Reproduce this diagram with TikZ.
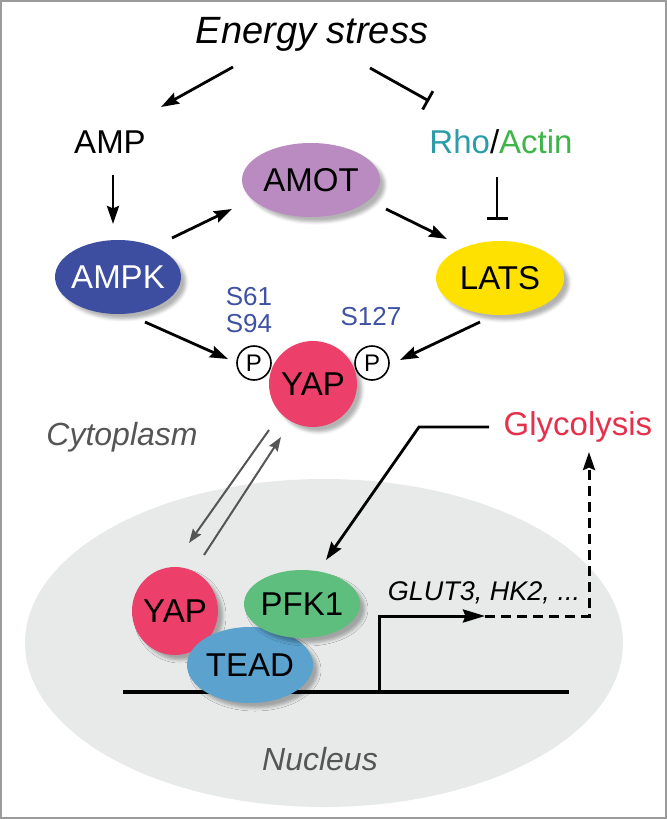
\documentclass[tikz,border=0pt]{standalone}
\usepackage{fontspec}
\setmainfont{Liberation Sans}
\usetikzlibrary{arrows.meta, shapes.geometric, shadows.blur, calc}
\definecolor{yapRed}{HTML}{EC3F6A}
\definecolor{amotPurple}{HTML}{B98BC1}
\definecolor{ampkBlue}{HTML}{3D4EA0}
\definecolor{latsYellow}{HTML}{FFE100}
\definecolor{pfkGreen}{HTML}{5DBE7D}
\definecolor{teadBlue}{HTML}{5BA2CF}
\definecolor{nucGrey}{HTML}{E8E9E9}
\definecolor{rhoTeal}{HTML}{2B9CA8}
\definecolor{actinGreen}{HTML}{3DB549}
\definecolor{glyRed}{HTML}{E5304C}
\definecolor{siteBlue}{HTML}{3F51A3}
\definecolor{txtGrey}{HTML}{555555}
\definecolor{frameGrey}{HTML}{9B9B9B}
\tikzset{
  act/.style     = {-{Stealth[length=9pt, width=6pt, inset=1.2pt]}, line width=1.4pt, black},
  inh/.style     = {-{Bar[width=10.5pt]}, line width=1.4pt, black},
  shuttle/.style = {-{Stealth[length=7pt, width=5pt, inset=1pt]}, line width=1pt, txtGrey},
  express/.style = {act, line width=1.5pt, dash pattern=on 5pt off 3pt},
  prot/.style    = {ellipse, inner sep=0pt, inner xsep=-4pt, font=\fontsize{16.5}{19}\selectfont,
                    blur shadow={shadow xshift=2.5pt, shadow yshift=-2.5pt,
                                 shadow blur radius=1.5pt, shadow opacity=30}},
  phos/.style    = {circle, draw=black, line width=0.8pt, fill=white, minimum size=17pt,
                    inner sep=0pt, font=\fontsize{12}{14}\selectfont},
  lbl/.style     = {anchor=base, inner sep=0pt, font=\fontsize{16.5}{19}\selectfont},
  site/.style    = {anchor=base, inner sep=0pt, font=\fontsize{13}{15}\selectfont, siteBlue},
  comp/.style    = {anchor=base, inner sep=0pt, font=\fontsize{16}{19}\selectfont\itshape, txtGrey},
}
\begin{document}
\begin{tikzpicture}[x=0.5pt, y=-0.5pt]
  \useasboundingbox (0,0) rectangle (667,819);
  \draw[frameGrey, line width=1pt] (1,1) rectangle (666,818);
  % nucleus and DNA
  \fill[nucGrey] (324,643) ellipse [x radius=149.5pt, y radius=82pt];
  \coordinate (dnaL) at (123,692);
  \coordinate (dnaR) at (569,692);
  \coordinate (tss)  at (379,692);
  \draw[line width=1.6pt] (dnaL) -- (dnaR);

  \node[anchor=base, inner sep=0pt, font=\fontsize{19}{22}\selectfont\itshape] (es) at (312,43) {Energy stress};
  \node[lbl] (amp) at (110,153) {AMP};
  \node[lbl] (rho) at (501,153) {\textcolor{rhoTeal}{Rho}/\textcolor{actinGreen}{Actin}};

  \node[prot, fill=amotPurple, minimum width=69pt, minimum height=37pt] (amot) at (311,180) {AMOT};
  \node[prot, fill=ampkBlue, text=white, minimum width=63pt, minimum height=37pt] (ampk) at (118,277) {AMPK};
  \node[prot, fill=latsYellow, minimum width=64pt, minimum height=37pt] (lats) at (500,278) {LATS};
  \node[prot, fill=yapRed, minimum width=44pt, minimum height=43pt] (yapC) at (313,384) {YAP};
  \node[phos] (pL) at (254,363) {P};
  \node[phos] (pR) at (372,363) {P};

  \node[site] (s61)  at (249,305) {S61};
  \node[site] (s94)  at (249,332) {S94};
  \node[site] (s127) at (371,325) {S127};

  \node[comp] (cyto) at (122,445) {Cytoplasm};
  \node[comp] (nuc)  at (320,770) {Nucleus};
  \node[lbl, glyRed] (gly) at (578,435) {Glycolysis};

  \node[prot, fill=yapRed, minimum width=43pt, minimum height=44pt] (yapN) at (175,611) {YAP};
  \node[prot, fill=teadBlue, minimum width=63pt, minimum height=38pt] (tead) at (250,665) {TEAD};
  \node[prot, fill=pfkGreen, minimum width=58pt, minimum height=34pt] (pfk) at (302,604) {PFK1};
  \node[anchor=base, inner sep=0pt, font=\fontsize{13.5}{16}\selectfont\itshape] (glut) at (484,600) {GLUT3, HK2, ...};

  \draw[act] ($(es.base)+(-79,24)$) -- ($(amp.base)+(51,-46)$);
  \draw[inh] ($(es.base)+(58,25)$) -- ($(rho.base)+(-72,-52)$);
  \draw[act] ($(amp.base)+(3,22)$) -- ($(ampk)+(-5,-53)$);
  \draw[act] ($(ampk)+(54,-39)$) -- ($(amot)+(-79,29)$);
  \draw[act] ($(amot)+(75,29)$) -- ($(lats)+(-53,-39)$);
  \draw[inh] ($(rho.base)+(-4,24)$) -- ($(lats)+(-3,-58)$);
  \draw[act] ($(ampk)+(27,45)$) -- ($(pL)+(-26,-4)$);
  \draw[act] ($(lats)+(-20,44)$) -- ($(pR)+(28,-3)$);

  % nuclear shuttling
  \draw[shuttle] ($(yapC)+(-44,46)$) -- ($(yapN)+(14,-68)$);
  \draw[shuttle] ($(yapN)+(29,-56)$) -- ($(yapC)+(-32,53)$);

  \draw[act] ($(gly.base)+(-89,-8)$) -- ++(-70,0) -- ($(pfk)+(24,-44)$);
  \draw[act, line width=1.5pt, -{Stealth[length=11pt, width=6.5pt, inset=1.2pt]}]
    (tss) -- ++(0,-76) -- ++(106,0) coordinate (tssEnd);
  \draw[express] (tssEnd) -| ($(gly.base)+(11,17)$);
\end{tikzpicture}
\end{document}
